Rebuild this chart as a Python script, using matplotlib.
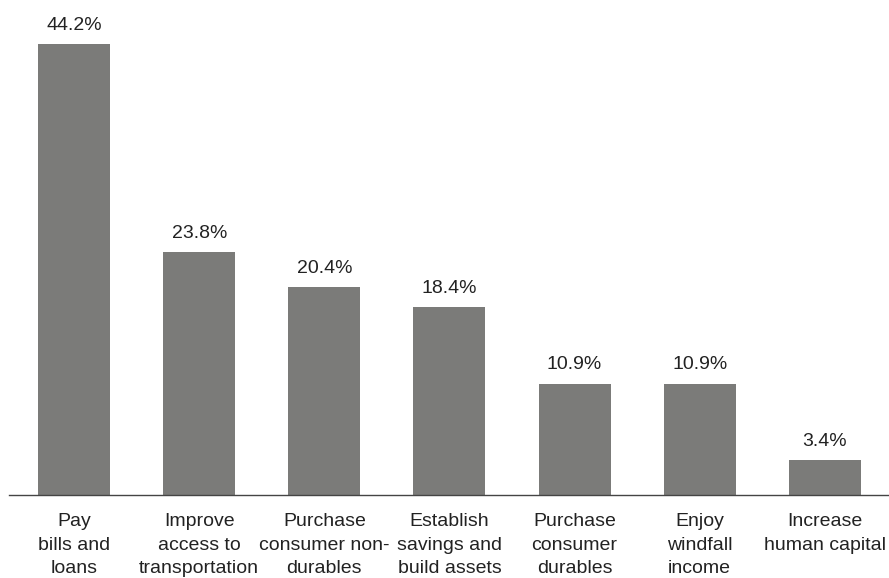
import matplotlib
matplotlib.use("Agg")
import matplotlib.pyplot as plt

categories = ["Pay\nbills and\nloans", "Improve\naccess to\ntransportation",
              "Purchase\nconsumer non-\ndurables", "Establish\nsavings and\nbuild assets",
              "Purchase\nconsumer\ndurables", "Enjoy\nwindfall\nincome",
              "Increase\nhuman capital"]
values = [44.2, 23.8, 20.4, 18.4, 10.9, 10.9, 3.4]
value_labels = ["44.2%", "23.8%", "20.4%", "18.4%", "10.9%", "10.9%", "3.4%"]

plt.rcParams['font.family'] = ['Liberation Sans', 'DejaVu Sans']

W, H = 889, 578
fig = plt.figure(figsize=(W/100, H/100), dpi=100)
base_px = 495
top_px = 5
ax = fig.add_axes([9/W, (H-base_px)/H, 879/W, (base_px-top_px)/H])

x = list(range(len(values)))
ax.bar(x, values, width=0.575, color="#7b7b79", zorder=2)
ax.set_xlim(-0.52, 6.505)
ax.set_ylim(0, (base_px-top_px)/10.2)

for xi, v, lab in zip(x, values, value_labels):
    ax.annotate(lab, (xi, v), xytext=(0, 7.5), textcoords="offset points",
                ha="center", va="bottom", fontsize=14, color="#222222")

ax.set_xticks(x)
ax.set_xticklabels(categories, fontsize=14, color="#222222", linespacing=1.5)
ax.tick_params(axis="x", length=0, pad=13)
ax.set_yticks([])
for s in ["top", "right", "left"]:
    ax.spines[s].set_visible(False)
ax.spines["bottom"].set_color("#444444")
ax.spines["bottom"].set_linewidth(1.0)
ax.spines["bottom"].set_zorder(3)

fig.savefig("out.png", dpi=100)
